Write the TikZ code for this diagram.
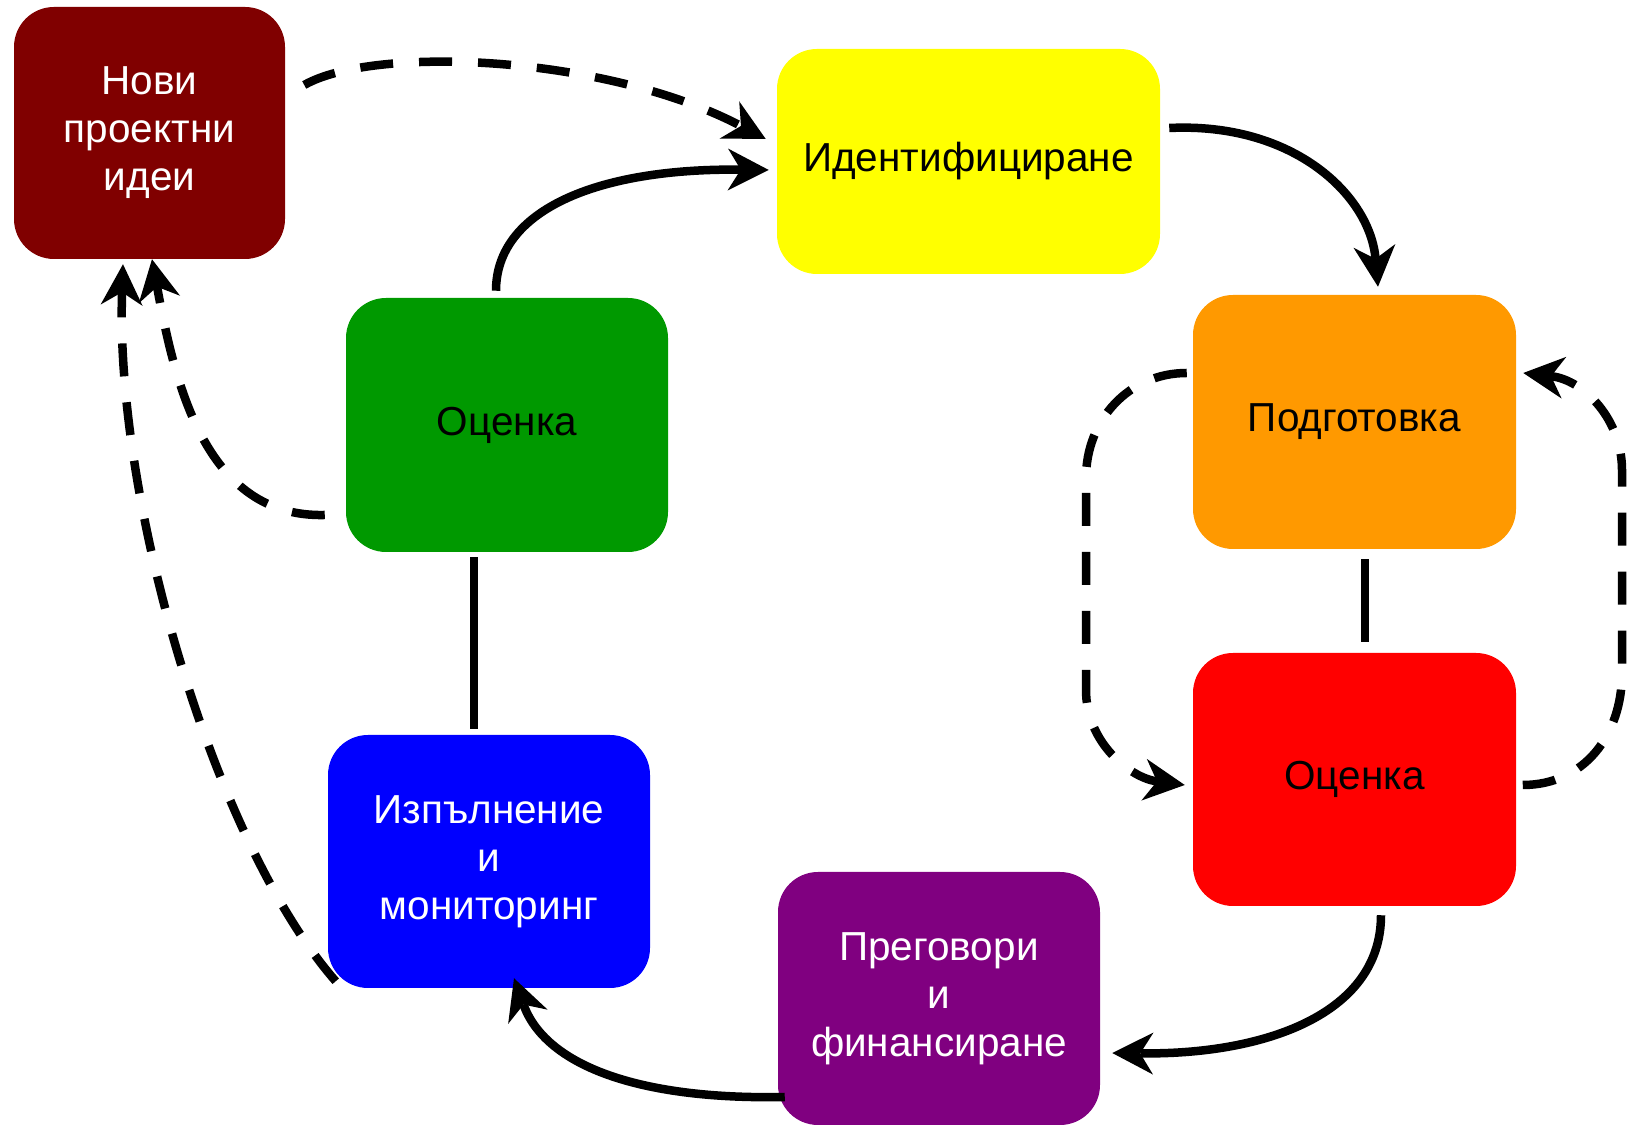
\documentclass[tikz,border=0pt]{standalone}
\usepackage{fontspec}
\setmainfont{Liberation Sans}
\usetikzlibrary{calc,positioning,arrows.meta}
\definecolor{ideac}{rgb}{0.5,0,0}
\definecolor{identc}{rgb}{1,1,0}
\definecolor{prepc}{rgb}{1,0.6,0}
\definecolor{evalrc}{rgb}{1,0,0}
\definecolor{negotc}{rgb}{0.5,0,0.5}
\definecolor{implc}{rgb}{0,0,1}
\definecolor{evalgc}{rgb}{0,0.6,0}

\begin{document}
\begin{tikzpicture}[x=1pt, y=1pt, line width=8.5pt, font=\fontsize{40.5}{48}\selectfont,
	>={Stealth[length=41pt, width=42pt, inset=13pt, line width=0pt]},
	block/.style={rectangle, rounded corners=40pt, minimum width=322pt, minimum height=253pt, inner sep=4pt, align=center},
	dashline/.style={dash pattern=on 33pt off 26pt},]
	 \useasboundingbox (0,0) rectangle (1631,1127);

	 \node[block, fill=ideac, text=white, minimum width=271pt, minimum height=252pt] (idea) at (149.5,994) {Нови\\проектни\\идеи};
	 \node[block, fill=identc, minimum width=383pt, minimum height=225pt] (ident) at (968.5,965.5) {Идентифициране};
	 \node[block, fill=prepc, minimum width=323pt, minimum height=254pt] (prep) at (1354.5,705) {Подготовка};
	 \node[block, fill=evalrc, minimum width=323pt, below of=prep, node distance=357.5pt] (evalr) {Оценка};
	 \node[block, fill=negotc, text=white] (negot) at (939,128.5) {Преговори\\и\\финансиране};
	 \node[block, fill=implc, text=white] (impl) at (489,265.5) {Изпълнение\\и\\мониторинг};
	 \node[block, fill=evalgc, minimum height=254pt] (evalg) at (507,702) {Оценка};

       \draw[->] ($(evalg.north)+(-11,3)$) .. controls +(0,80) and +(-173,2) .. ($(ident.west)+(-4,-8.5)$);
       \draw[->] ($(ident.east)+(5,33.5)$) .. controls +(125,6) and +(-8,91) .. ($(prep.north)+(23.5,4)$);
       \draw ($(prep.south)+(10.5,-6)$) -- ($(evalr.north)+(10.5,7)$);
       \draw[->] ($(evalr.south)+(26.5,-5)$) .. controls +(0,-99) and +(152,-2) .. ($(negot.east)+(8,-54.5)$);
       \draw[->] ($(negot.west)+(11,-98.5)$) .. controls +(-149,-3) and +(31,-86) .. ($(impl.south)+(25,14)$);
       \draw ($(evalg.south)+(-33,-1)$) -- ($(impl.north)+(-15,2)$);

	 % feedback loops
	 \draw[->, dashline] ($(idea.east)+(15,48)$) .. controls +(70,40) and +(-160,84) .. ($(ident.west)+(-7,22.5)$);
	 \draw[->, dashline] ($(prep.west)+(-2,49)$) .. controls +(-58,0) and +(0,58) .. (1086,649) -- (1086,437) .. controls +(0,-53) and +(-54,7) .. ($(evalr.west)+(-4,-5.5)$);
	 \draw[->, dashline] ($(evalr.east)+(2.5,-5.5)$) .. controls +(61.5,0) and +(0,-62) .. (1622,454) -- (1622,657) .. controls +(0,50) and +(61,-7) .. ($(prep.east)+(3,49)$);
	 \draw[->, dashline] ($(evalg.west)+(-17,-90)$) .. controls +(-119,-3) and +(23,-125) .. ($(idea.south)+(2.5,4)$);
	 \draw[->, dashline] ($(impl.south west)+(12,11)$) .. controls +(-120,137) and +(-8,-240) .. ($(idea.south)+(-26.5,-1)$);

\end{tikzpicture}
\end{document}
